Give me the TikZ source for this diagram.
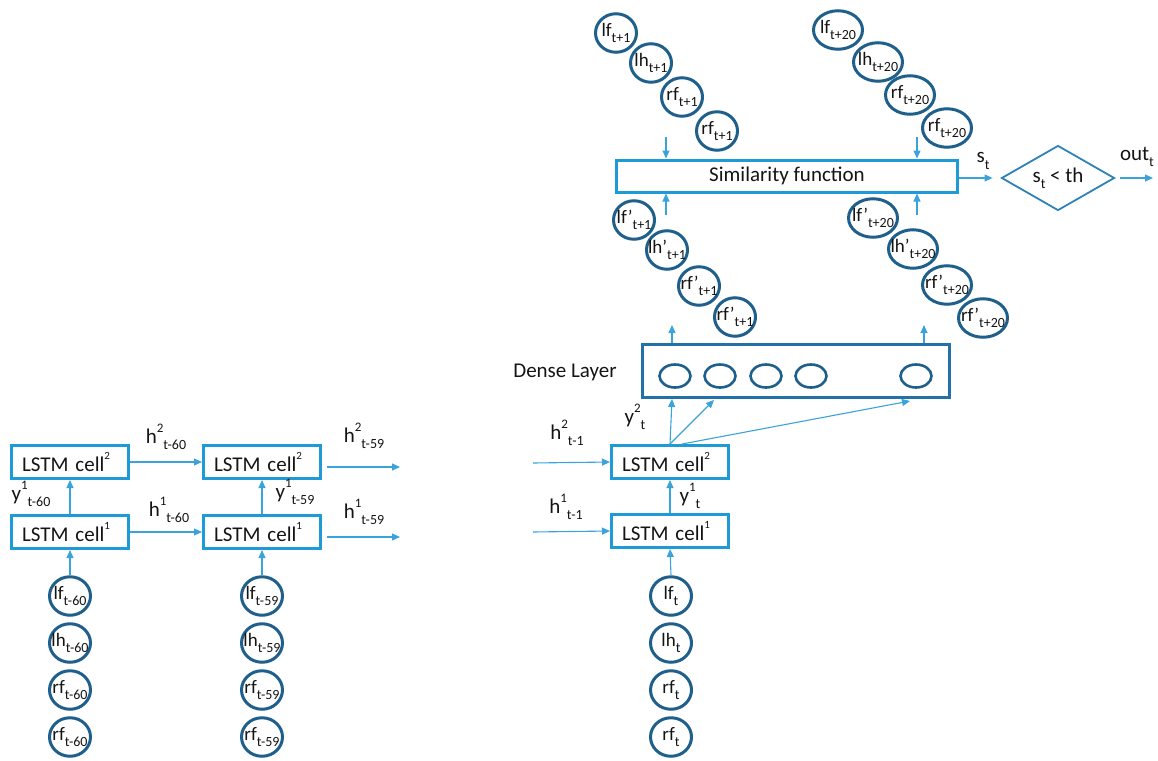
\documentclass[tikz,border=0pt]{standalone}
\usepackage{fontspec}
\setmainfont{Carlito}
\usetikzlibrary{shapes.geometric,arrows.meta}
\definecolor{boxblue}{HTML}{1E9AD6}
\definecolor{arrblue}{HTML}{3BA3DB}
\definecolor{circblue}{HTML}{1F5F8B}
\definecolor{denseblue}{HTML}{2371A5}
\definecolor{diablue}{HTML}{2E82B8}
\definecolor{txt}{HTML}{141414}
\newcommand\up[1]{\raisebox{0.5em}{\fontsize{13}{13}\selectfont #1}}
\newcommand\cellsup[1]{\raisebox{0.55em}{\fontsize{11}{11}\selectfont #1}}
\newcommand\lo[1]{\raisebox{-0.3em}{\fontsize{14}{14}\selectfont #1}}
\begin{document}
\begin{tikzpicture}[x=1pt,y=-1pt,
  >={Triangle[length=8pt,width=7pt]},
  every node/.style={text=txt},
  lstm/.style={draw=boxblue, line width=3pt, text width=96pt, align=left,
    inner xsep=10.5pt, minimum height=33pt, inner ysep=0pt, font=\fontsize{21}{21}\selectfont},
  inp/.style={ellipse, draw=circblue, line width=3pt, minimum width=41pt,
    minimum height=38.5pt, inner sep=0pt, font=\fontsize{19}{19}\selectfont},
  winp/.style={inp, minimum width=49pt},
  unit/.style={ellipse, draw=circblue, line width=2.6pt, minimum width=31pt,
    minimum height=23pt, inner sep=0pt},
  densebox/.style={draw=denseblue, line width=3pt, minimum width=307pt,
    minimum height=53pt, inner sep=0pt},
  simbox/.style={draw=boxblue, line width=3pt, minimum width=341pt,
    minimum height=32pt, inner sep=0pt, font=\fontsize{21}{21}\selectfont},
  decide/.style={diamond, draw=diablue, line width=1.8pt, minimum width=113pt,
    minimum height=65pt, aspect=1.74, inner sep=0pt, font=\fontsize{21}{21}\selectfont},
  lab/.style={font=\fontsize{21}{21}\selectfont, inner sep=0pt},
  arr/.style={->, draw=arrblue, line width=1.1pt}
]
\useasboundingbox (0,0) rectangle (1158,760);

% ---------- left part ----------
\node[lstm] (c2a) at (70,462) {LSTM cell\cellsup{2}};
\node[lstm] (c1a) at (70,532) {LSTM cell\cellsup{1}};
\node[lstm] (c2b) at (262,462) {LSTM cell\cellsup{2}};
\node[lstm] (c1b) at (262,532) {LSTM cell\cellsup{1}};

\node[inp] (ia1) at (70,596) {\makebox[0pt]{lf\lo{t-60}}};
\node[inp] (ia2) at (70,643) {\makebox[0pt]{lh\lo{t-60}}};
\node[inp] (ia3) at (70,690) {\makebox[0pt]{rf\lo{t-60}}};
\node[inp] (ia4) at (70,737) {\makebox[0pt]{rf\lo{t-60}}};
\node[inp] (ib1) at (262,596) {\makebox[0pt]{lf\lo{t-59}}};
\node[inp] (ib2) at (262,643) {\makebox[0pt]{lh\lo{t-59}}};
\node[inp] (ib3) at (262,690) {\makebox[0pt]{rf\lo{t-59}}};
\node[inp] (ib4) at (262,737) {\makebox[0pt]{rf\lo{t-59}}};

\draw[arr] (ia1.north) -- (c1a.south);
\draw[arr] (ib1.north) -- (c1b.south);
\draw[arr] (c1a.north) -- (c2a.south);
\draw[arr] (c1b.north) -- (c2b.south);
\draw[arr] (c2a.east) -- (c2b.west);
\draw[arr] (c1a.east) -- (c1b.west);
\coordinate (o2s) at (327,467); \coordinate (o2e) at (400,467);
\coordinate (o1s) at (327,537); \coordinate (o1e) at (400,537);
\draw[arr] (o2s) -- (o2e);
\draw[arr] (o1s) -- (o1e);

\node[lab] (lh2a) at (166,437) {h\up{2}\lo{t-60}};
\node[lab] (lh1a) at (169,510) {h\up{1}\lo{t-60}};
\node[lab] (lh2b) at (364,436) {h\up{2}\lo{t-59}};
\node[lab] (lh1b) at (364,512) {h\up{1}\lo{t-59}};
\node[lab] (ly1a) at (31,494) {y\up{1}\lo{t-60}};
\node[lab] (ly1b) at (295,492) {y\up{1}\lo{t-59}};

% ---------- right part ----------
\node[lstm] (c2c) at (670,462) {LSTM cell\cellsup{2}};
\node[lstm] (c1c) at (670,531) {LSTM cell\cellsup{1}};
\node[inp] (ic1) at (671,596) {\makebox[0pt]{lf\lo{t}}};
\node[inp] (ic2) at (671,643) {\makebox[0pt]{lh\lo{t}}};
\node[inp] (ic3) at (671,690) {\makebox[0pt]{rf\lo{t}}};
\node[inp] (ic4) at (671,737) {\makebox[0pt]{rf\lo{t}}};
\draw[arr] (ic1.north) -- (c1c.south);
\draw[arr] (c1c.north) -- (c2c.south);
\coordinate (h2in) at (533,463);
\coordinate (h1in) at (533,532);
\draw[arr] (h2in) -- (c2c.west);
\draw[arr] (h1in) -- (c1c.west);
\node[lab] (lh2c) at (567,433) {h\up{2}\lo{t-1}};
\node[lab] (lh1c) at (566,507) {h\up{1}\lo{t-1}};
\node[lab] (ly1c) at (690,496) {y\up{1}\lo{t}};
\node[lab] (ly2c) at (635,417) {y\up{2}\lo{t}};

% dense layer
\node[densebox] (dense) at (796,371) {};
\node[lab] (dl) at (565,372) {Dense Layer};
\node[unit] (d1) at (675,376) {};
\node[unit] (d2) at (720,376) {};
\node[unit] (d3) at (766,376) {};
\node[unit] (d4) at (811,376) {};
\node[unit] (d5) at (916,376) {};
\coordinate (t1) at (672,399);
\coordinate (t2) at (714,400);
\coordinate (t3) at (910,401);
\draw[arr] (c2c.north) -- (t1);
\draw[arr] (c2c.north) -- (t2);
\draw[arr] ([xshift=12pt]c2c.north) -- (t3);
\coordinate (u1) at (672,325);
\coordinate (u2) at (924,325);
\draw[arr] (dense.north -| u1) -- (u1);
\draw[arr] (dense.north -| u2) -- (u2);

% predicted outputs
\node[inp] (p1) at (634,220) {\makebox[0pt]{lf’\lo{t+1}}};
\node[inp] (p2) at (667,250) {\makebox[0pt]{lh’\lo{t+1}}};
\node[inp] (p3) at (699,286) {\makebox[0pt]{rf’\lo{t+1}}};
\node[inp] (p4) at (735,317) {\makebox[0pt]{rf’\lo{t+1}}};
\node[winp] (q1) at (873,218) {\makebox[0pt]{lf’\lo{t+20}}};
\node[winp] (q2) at (913,249) {\makebox[0pt]{lh’\lo{t+20}}};
\node[winp] (q3) at (947,285) {\makebox[0pt]{rf’\lo{t+20}}};
\node[winp] (q4) at (983,318) {\makebox[0pt]{rf’\lo{t+20}}};

% similarity
\node[simbox] (sim) at (787,176) {Similarity function};
\coordinate (sa) at (666,215);
\coordinate (sb) at (917,215);
\draw[arr] (sa) -- (sim.south -| sa);
\draw[arr] (sb) -- (sim.south -| sb);
\coordinate (ta) at (666,137);
\coordinate (tb) at (917,137);
\draw[arr] (ta) -- (sim.north -| ta);
\draw[arr] (tb) -- (sim.north -| tb);

% ground truth
\node[inp] (g1) at (616,33) {\makebox[0pt]{lf\lo{t+1}}};
\node[inp] (g2) at (651,63) {\makebox[0pt]{lh\lo{t+1}}};
\node[inp] (g3) at (682,97) {\makebox[0pt]{rf\lo{t+1}}};
\node[inp] (g4) at (717,131) {\makebox[0pt]{rf\lo{t+1}}};
\node[winp] (k1) at (838,30) {\makebox[0pt]{lf\lo{t+20}}};
\node[winp] (k2) at (878,62) {\makebox[0pt]{lh\lo{t+20}}};
\node[winp] (k3) at (910,95) {\makebox[0pt]{rf\lo{t+20}}};
\node[winp] (k4) at (947,128) {\makebox[0pt]{rf\lo{t+20}}};

% decision
\node[decide] (dia) at (1058,178) {s\lo{t} < th};
\draw[arr, shorten >=8pt] (sim.east |- dia.west) -- (dia.west);
\node[lab] (lst) at (983,161) {s\lo{t}};
\coordinate (outend) at (1153,178);
\draw[arr, shorten <=5pt] (dia.east) -- (outend);
\node[lab] (lout) at (1137,157) {out\lo{t}};
\end{tikzpicture}
\end{document}
